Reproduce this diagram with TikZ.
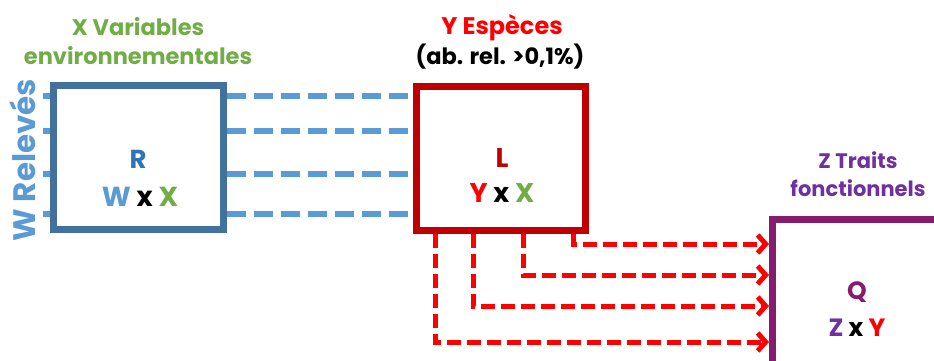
\documentclass[tikz,border=0pt]{standalone}
\usepackage{fontspec}
\setmainfont{Poppins}
\usetikzlibrary{arrows.meta}
\definecolor{cgreen}{RGB}{112,173,71}
\definecolor{clblue}{RGB}{91,155,213}
\definecolor{crbox}{RGB}{65,113,156}
\definecolor{crtext}{RGB}{46,117,182}
\definecolor{cdred}{RGB}{192,0,0}
\definecolor{cred}{RGB}{255,0,0}
\definecolor{cpurple}{RGB}{112,48,160}
\definecolor{cqbox}{RGB}{134,28,110}
\tikzset{
  box/.style={draw, line width=7pt, fill=white, rectangle, inner sep=0pt},
  lbl/.style={font=\bfseries, align=center, inner sep=0pt},
  bluelink/.style={draw=clblue, line width=6.5pt, dash pattern=on 19pt off 8pt},
  bluetick/.style={draw=clblue, line width=6.5pt},
  redlink/.style={draw=cred, line width=5pt, dash pattern=on 14pt off 6pt,
    -{Straight Barb[length=8pt,width=18pt,line width=5pt]}}
}
\begin{document}
\begin{tikzpicture}[x=1pt,y=-1pt]
\useasboundingbox (0,0) rectangle (934,360);
\clip (0,0) rectangle (934,360);
% boxes
\node[box, draw=crbox, minimum width=169.5pt, minimum height=143.5pt] (R) at (138.25,157.25) {};
\node[box, draw=cdred, minimum width=169pt, minimum height=144pt] (L) at (500.5,158) {};
\node[box, draw=cqbox, minimum width=200pt, minimum height=200pt] (Q) at (872.5,319) {};
% titles
\node[lbl, text=cgreen, font=\bfseries\fontsize{22.5}{29}\selectfont] (tX) at (138,41) {X Variables\\environnementales};
\node[lbl, text=cred, font=\bfseries\fontsize{24}{28}\selectfont] (tY) at (502,28) {Y Espèces};
\node[lbl, text=black, font=\bfseries\fontsize{22.5}{24}\selectfont] (tY2) at (500,57) {(ab. rel. >0,1\%)};
\node[lbl, text=cpurple, font=\bfseries\fontsize{21}{28}\selectfont] (tZ) at (858,174) {Z Traits\\fonctionnels};
\node[lbl, text=clblue, font=\bfseries\fontsize{31}{34}\selectfont, rotate=90] (tW) at (23,160) {W Relevés};
% inner texts
\node[lbl, text=crtext, font=\bfseries\fontsize{26}{30}\selectfont] (iR) at (138,159) {R};
\node[lbl, font=\bfseries\fontsize{27.5}{30}\selectfont] (iR2) at (140,197) {\textcolor{clblue}{W} x \textcolor{cgreen}{X}};
\node[lbl, text=cdred, font=\bfseries\fontsize{27}{30}\selectfont] (iL) at (502,158) {L};
\node[lbl, font=\bfseries\fontsize{27}{30}\selectfont] (iL2) at (502,193) {\textcolor{cred}{Y} x \textcolor{cgreen}{X}};
\node[lbl, text=cqbox, font=\bfseries\fontsize{25}{30}\selectfont] (iQ) at (857,292) {Q};
\node[lbl, font=\bfseries\fontsize{25}{30}\selectfont] (iQ2) at (857,328) {\textcolor{cpurple}{Z} x \textcolor{cred}{Y}};
% blue rows
\foreach \yy/\n in {96/a,131/b,174/c,214/d}{
  \coordinate (tick\n) at (43,\yy);
  \draw[bluetick] (tick\n) -- (R.west |- tick\n);
  \draw[bluelink] (R.east |- tick\n) -- (L.west |- tick\n);
}
% red arrows
\foreach \xx/\yy/\n in {435/342/a,473/306/b,523/275/c,573/244/d}{
  \coordinate (cs\n) at (\xx,\yy);
  \draw[redlink] (L.south -| cs\n) |- (Q.west |- cs\n);
}
\end{tikzpicture}
\end{document}
